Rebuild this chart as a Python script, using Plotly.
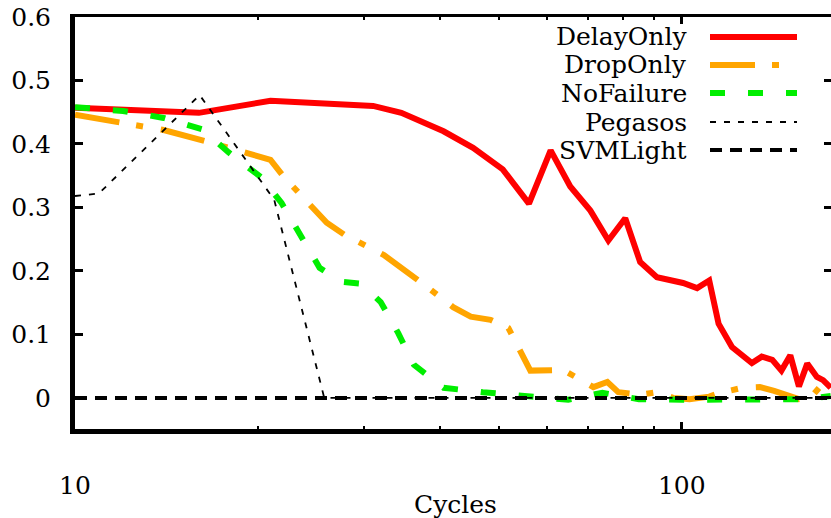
import plotly.graph_objects as go

# ---- data -------------------------------------------------------------
delay_x = [10, 16, 21, 31, 34.5, 40.5, 45.3, 50.7, 56, 60.8, 65.5, 70.7, 75.7,
           80.7, 85.4, 91, 100.5, 106, 111, 115, 121, 130.5, 135.5, 141, 146,
           151, 156, 161, 167, 171, 176]
delay_y = [0.457, 0.449, 0.468, 0.460, 0.449, 0.420, 0.394, 0.360, 0.306, 0.390,
           0.333, 0.295, 0.248, 0.283, 0.214, 0.190, 0.181, 0.173, 0.185, 0.117,
           0.080, 0.055, 0.065, 0.060, 0.043, 0.067, 0.018, 0.054, 0.033, 0.028,
           0.016]

drop_x = [10, 12, 14, 16.6, 19.5, 21, 22.1, 24.7, 26, 27.8, 30, 32.3, 36.7, 42,
          44.9, 48.4, 51.8, 53.8, 56.3, 63.8, 68.8, 71.5, 75.4, 78.6, 85.4, 91,
          96.8, 103, 111, 115.6, 126, 134.5, 142, 150.7, 156, 164, 170.6, 176]
drop_y = [0.446, 0.433, 0.422, 0.403, 0.384, 0.375, 0.348, 0.299, 0.276, 0.257,
          0.241, 0.225, 0.186, 0.143, 0.128, 0.123, 0.110, 0.078, 0.043, 0.044,
          0.026, 0.017, 0.025, 0.009, 0.005, 0.009, 0.000, -0.002, 0.002, 0.008,
          0.016, 0.017, 0.011, 0.002, -0.002, 0.003, 0.022, 0.015]

nofail_x = [10, 12, 14, 16.2, 17.9, 20.3, 21.9, 23.6, 25.3, 27.5, 29.6, 31.9,
            34.1, 36.2, 38.6, 40.5, 47, 56, 65, 74, 85, 100, 117, 138, 160, 176]
nofail_y = [0.458, 0.452, 0.441, 0.423, 0.387, 0.347, 0.307, 0.253, 0.205, 0.183,
            0.180, 0.151, 0.102, 0.052, 0.030, 0.016, 0.009, 0.002, -0.003, 0.008,
            -0.002, -0.003, -0.002, -0.003, -0.002, 0.003]

pegasos_x = [10, 10.95, 16.05, 21.3, 25.75, 200]
pegasos_y = [0.318, 0.322, 0.477, 0.312, 0.0, 0.0]

svm_x = [10, 200]
svm_y = [0.0, 0.0]

y_ticks = [0, 0.1, 0.2, 0.3, 0.4, 0.5, 0.6]
y_tick_text = ["0", "0.1", "0.2", "0.3", "0.4", "0.5", "0.6"]
x_ticks = [10, 100]
x_tick_text = ["10", "100"]
x_minor = [20, 30, 40, 50, 60, 70, 80, 90]

series_names = ["DelayOnly", "DropOnly", "NoFailure", "Pegasos", "SVMLight"]

# ---- styles -----------------------------------------------------------
FONT = "DejaVu Serif"
FS = 25
styles = {
    "DelayOnly": dict(color="#ff0000", width=6, dash="solid"),
    "DropOnly": dict(color="#ffa500", width=6, dash="45px,17px,7px,18px"),
    "NoFailure": dict(color="#00ee00", width=6, dash="15px,23px"),
    "Pegasos": dict(color="#000000", width=1.8, dash="6px,8px"),
    "SVMLight": dict(color="#000000", width=4, dash="12px,8px"),
}
series = {
    "DelayOnly": (delay_x, delay_y),
    "DropOnly": (drop_x, drop_y),
    "NoFailure": (nofail_x, nofail_y),
    "Pegasos": (pegasos_x, pegasos_y),
    "SVMLight": (svm_x, svm_y),
}

X_RANGE = [1, 2.246]
Y_RANGE = [-0.049, 0.6]

fig = go.Figure()
for name in series_names:
    xs, ys = series[name]
    fig.add_trace(go.Scatter(x=xs, y=ys, mode="lines", name=name,
                             line=dict(**styles[name]), showlegend=False))
# empty trace that carries the top / right frame axes
fig.add_trace(go.Scatter(x=[None], y=[None], xaxis="x2", yaxis="y2",
                         mode="lines", showlegend=False, hoverinfo="skip"))

# ---- key: right-aligned labels with line samples to their right --------
W, H = 831, 518
L, R, T, B = 75, 0, 17, 89
pw, ph = W - L - R, H - T - B


def px_x(p):
    return (p - L) / pw


def px_y(p):
    return (H - B - p) / ph


shapes = []
annotations = []
key_rows = [37, 65, 93, 122, 150]
for name, row in zip(series_names, key_rows):
    annotations.append(dict(x=px_x(689), y=px_y(row), xref="paper", yref="paper",
                            text=name, showarrow=False, xanchor="right",
                            yanchor="middle",
                            font=dict(family=FONT, size=FS, color="black")))
    st = styles[name]
    shapes.append(dict(type="line", xref="paper", yref="paper",
                       x0=px_x(710), x1=px_x(797), y0=px_y(row), y1=px_y(row),
                       line=dict(color=st["color"], width=st["width"],
                                 dash=st["dash"])))

# x-axis caption
annotations.append(dict(x=px_x(455), y=px_y(504), xref="paper", yref="paper",
                        text="Cycles", showarrow=False, xanchor="center",
                        yanchor="middle",
                        font=dict(family=FONT, size=FS, color="black")))

fig.update_layout(
    width=W, height=H,
    margin=dict(l=L, r=R, t=T, b=B, pad=0),
    paper_bgcolor="white", plot_bgcolor="white",
    font=dict(family=FONT, size=FS, color="black"),
    shapes=shapes, annotations=annotations,
    showlegend=False,
    xaxis=dict(
        type="log", range=X_RANGE,
        tickmode="array", tickvals=x_ticks, ticktext=x_tick_text,
        ticks="inside", ticklen=7, tickwidth=3, tickcolor="black",
        minor=dict(tickmode="array", tickvals=x_minor, ticks="inside",
                   ticklen=3, tickwidth=2, tickcolor="black", showgrid=False),
        showline=True, linecolor="black", linewidth=5,
        showgrid=False, zeroline=False,
        ticklabelstandoff=30,
        tickfont=dict(family=FONT, size=FS, color="black"),
    ),
    xaxis2=dict(
        type="log", range=X_RANGE, overlaying="x", side="top", anchor="y2",
        tickmode="array", tickvals=x_ticks,
        ticks="inside", ticklen=7, tickwidth=3, tickcolor="black",
        minor=dict(tickmode="array", tickvals=x_minor, ticks="inside",
                   ticklen=3, tickwidth=2, tickcolor="black", showgrid=False),
        showline=True, linecolor="black", linewidth=3,
        showticklabels=False, showgrid=False, zeroline=False,
    ),
    yaxis=dict(
        range=Y_RANGE,
        tickmode="array", tickvals=y_ticks, ticktext=y_tick_text,
        ticks="inside", ticklen=8, tickwidth=3, tickcolor="black",
        showline=True, linecolor="black", linewidth=5,
        showgrid=False, zeroline=False,
        ticklabelstandoff=14,
        tickfont=dict(family=FONT, size=FS, color="black"),
    ),
    yaxis2=dict(
        range=Y_RANGE, overlaying="y", side="right", anchor="x2",
        tickmode="array", tickvals=y_ticks,
        ticks="inside", ticklen=7, tickwidth=3, tickcolor="black",
        showline=False, showticklabels=False, showgrid=False, zeroline=False,
    ),
)

fig.write_html("out.html")
